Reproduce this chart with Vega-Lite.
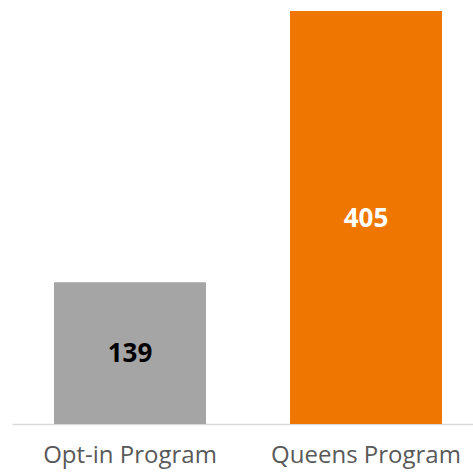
{
  "$schema": "https://vega.github.io/schema/vega-lite/v6.json",
  "autosize": "none",
  "width": 461,
  "height": 413,
  "padding": {"left": 12, "top": 11, "right": 0, "bottom": 51},
  "background": "white",
  "config": {"view": {"stroke": null}, "font": "Open Sans"},
  "data": {"values": [
    {"program": "Opt-in Program", "value": 139},
    {"program": "Queens Program", "value": 405}
  ]},
  "encoding": {
    "x": {"field": "program", "type": "nominal", "sort": null,
      "scale": {"range": [0, 472], "paddingInner": 0.356, "paddingOuter": 0.178},
      "axis": {"title": null, "ticks": false, "labelAngle": 0, "labelFontSize": 24, "labelLimit": 0, "labelColor": "#595959", "labelPadding": 19, "domainColor": "#d9d9d9", "domainWidth": 1.5}}
  },
  "layer": [
    {"mark": {"type": "bar"},
     "encoding": {
       "y": {"field": "value", "type": "quantitative", "scale": {"domain": [0, 405], "nice": false}, "axis": null},
       "color": {"field": "program", "type": "nominal", "legend": null,
         "scale": {"domain": ["Opt-in Program", "Queens Program"], "range": ["#a5a5a5", "#ef7600"]}}
     }},
    {"mark": {"type": "text", "fontSize": 26, "fontWeight": "bold", "baseline": "middle", "dy": 1},
     "encoding": {
       "y": {"field": "value", "type": "quantitative", "scale": {"domain": [0, 810], "nice": false}, "axis": null},
       "text": {"field": "value"},
       "color": {"field": "program", "type": "nominal", "legend": null,
         "scale": {"domain": ["Opt-in Program", "Queens Program"], "range": ["#000000", "#ffffff"]}}
     }}
  ],
  "resolve": {"scale": {"y": "independent", "color": "independent"}}
}
